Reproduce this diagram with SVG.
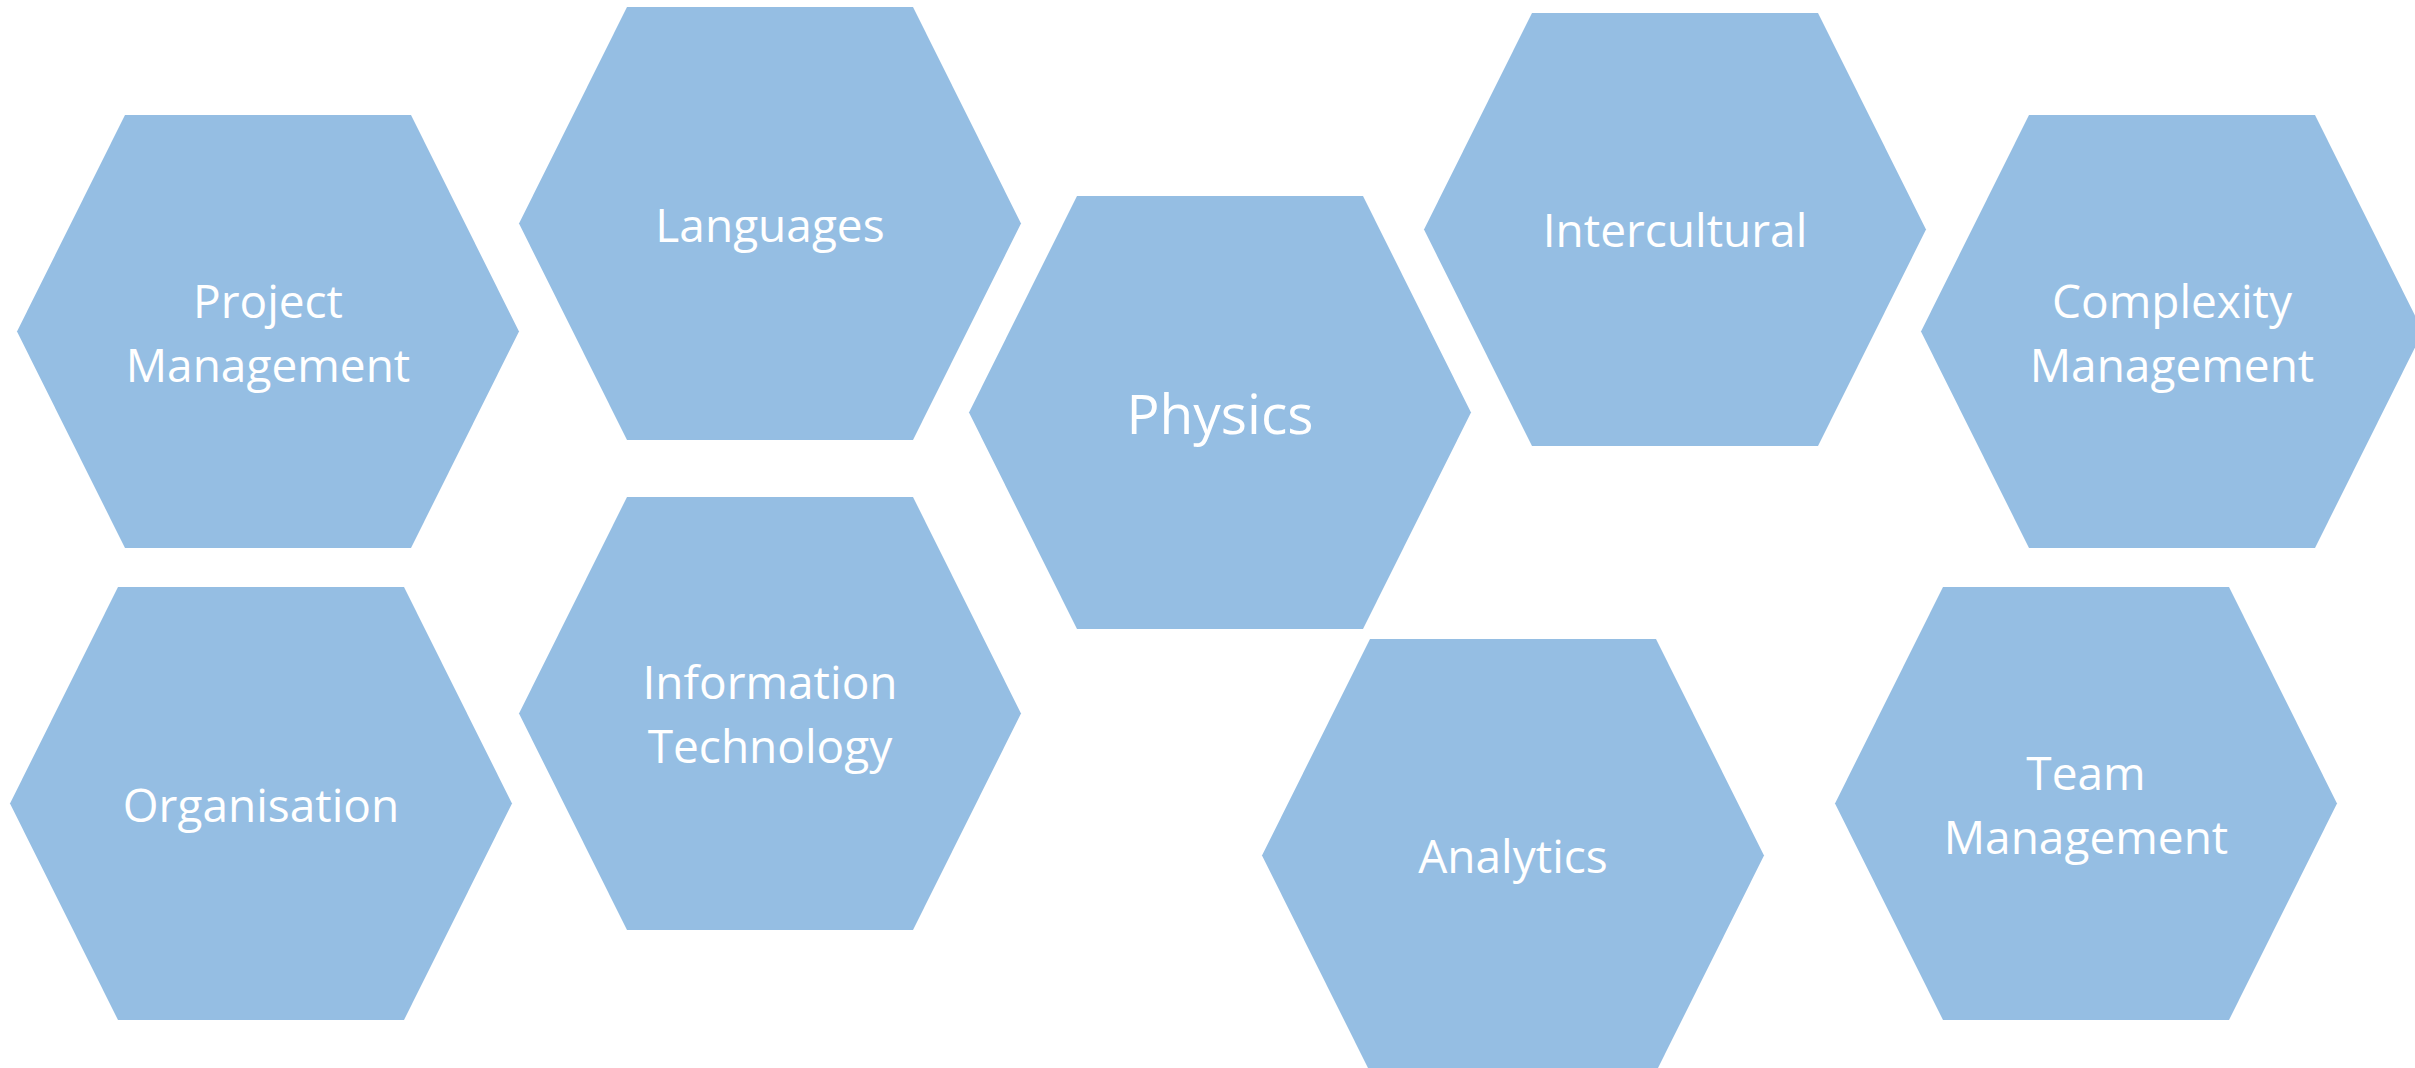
<svg xmlns="http://www.w3.org/2000/svg" width="2415" height="1068" viewBox="0 0 2415 1068">
  <style>
    .hex { fill: #95BEE3; }
    .lbl { fill: #FFFFFF; font-family: "Open Sans", "Liberation Sans", sans-serif; font-size: 46px; text-anchor: middle; }
    .big { font-size: 55px; }
  </style>
  <defs>
    <polygon id="hexShape" points="108,0 394,0 502,216.5 394,433 108,433 0,216.5"/>
  </defs>
  <rect x="0" y="0" width="2415" height="1068" fill="#FFFFFF"/>
  <g id="connectors"></g>
  <g id="node-project-management" transform="translate(17,115)">
    <use href="#hexShape" class="hex"/>
    <text class="lbl" x="251" y="203">Project</text>
    <text class="lbl" x="251" y="267">Management</text>
  </g>
  <g id="node-languages" transform="translate(519,7)">
    <use href="#hexShape" class="hex"/>
    <text class="lbl" x="251" y="235">Languages</text>
  </g>
  <g id="node-physics" transform="translate(969,196)">
    <use href="#hexShape" class="hex"/>
    <text class="lbl big" x="251" y="238">Physics</text>
  </g>
  <g id="node-intercultural" transform="translate(1424,13)">
    <use href="#hexShape" class="hex"/>
    <text class="lbl" x="251" y="234">Intercultural</text>
  </g>
  <g id="node-complexity-management" transform="translate(1921,115)">
    <use href="#hexShape" class="hex"/>
    <text class="lbl" x="251" y="203">Complexity</text>
    <text class="lbl" x="251" y="267">Management</text>
  </g>
  <g id="node-organisation" transform="translate(10,587)">
    <use href="#hexShape" class="hex"/>
    <text class="lbl" x="251" y="235">Organisation</text>
  </g>
  <g id="node-information-technology" transform="translate(519,497)">
    <use href="#hexShape" class="hex"/>
    <text class="lbl" x="251" y="202">Information</text>
    <text class="lbl" x="251" y="266">Technology</text>
  </g>
  <g id="node-analytics" transform="translate(1262,639)">
    <use href="#hexShape" class="hex"/>
    <text class="lbl" x="251" y="234">Analytics</text>
  </g>
  <g id="node-team-management" transform="translate(1835,587)">
    <use href="#hexShape" class="hex"/>
    <text class="lbl" x="251" y="203">Team</text>
    <text class="lbl" x="251" y="267">Management</text>
  </g>
</svg>
